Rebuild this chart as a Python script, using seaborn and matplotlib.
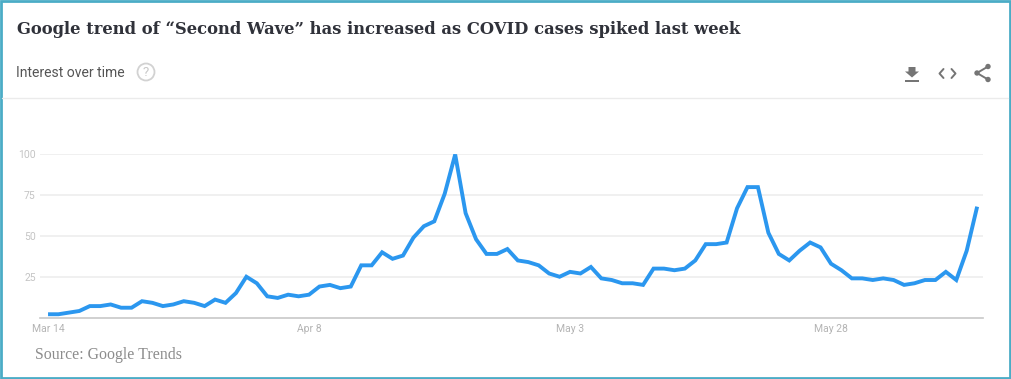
import pandas as pd
import matplotlib.pyplot as plt
from matplotlib.patches import Circle, Polygon, Rectangle
import seaborn as sns

# daily google trends index, starts Mar 14
start_date = "2020-03-14"
interest = [2, 2, 3, 4, 7, 7, 8, 6, 6, 10,
            9, 7, 8, 10, 9, 7, 11, 9, 15, 25,
            21, 13, 12, 14, 13, 14, 19, 20, 18, 19,
            32, 32, 40, 36, 38, 49, 56, 59, 76, 100,
            64, 48, 39, 39, 42, 35, 34, 32, 27, 25,
            28, 27, 31, 24, 23, 21, 21, 20, 30, 30,
            29, 30, 35, 45, 45, 46, 67, 80, 80, 52,
            39, 35, 41, 46, 43, 33, 29, 24, 24, 23,
            24, 23, 20, 21, 23, 23, 28, 23, 41, 68]
x_tick_dates = ["2020-03-14", "2020-04-08", "2020-05-03", "2020-05-28"]
x_tick_labels = ["Mar 14", "Apr 8", "May 3", "May 28"]
y_ticks = [25, 50, 75, 100]

title = "Google trend of “Second Wave” has increased as COVID cases spiked last week"
subtitle = "Interest over time"
source = "Source: Google Trends"

W, H = 1011, 379
sns.set_theme(style="white")
plt.rcParams["font.family"] = ["Roboto", "DejaVu Sans"]

df = pd.DataFrame({"date": pd.date_range(start_date, periods=len(interest)), "interest": interest})

fig = plt.figure(figsize=(W / 100, H / 100), dpi=100, facecolor="white")

# plot area in pixels: x 40-983, y 154.5 (100) to 317.5 (0)
ax = fig.add_axes([40 / W, (H - 317.5) / H, 943 / W, 163 / H])
ax.set_facecolor("none")
sns.lineplot(data=df, x="date", y="interest", color="#2b97ef", linewidth=2.8, ax=ax, clip_on=False,
             solid_joinstyle="miter", solid_capstyle="butt", zorder=3)
day = pd.Timedelta(days=1)
ax.set_xlim(df["date"].iloc[0] - 0.77 * day, df["date"].iloc[0] + 89.56 * day)
ax.set_ylim(0, 100)
ax.set_yticks(y_ticks)
ax.set_xticks(pd.to_datetime(x_tick_dates))
ax.set_xticklabels(x_tick_labels)
ax.set_xlabel("")
ax.set_ylabel("")
ax.grid(axis="y", color="#ececec", linewidth=1.1)
ax.set_axisbelow(True)
ax.tick_params(axis="x", length=0, pad=4.5, labelsize=7.5, labelcolor="#b4b4b4")
ax.tick_params(axis="y", length=0, pad=3, labelsize=7.5, labelcolor="#c4c4c4")
sns.despine(ax=ax, left=True, top=True, right=True)
ax.spines["bottom"].set_color("#c8c8c8")
ax.spines["bottom"].set_linewidth(1.2)

# overlay in pixel coords for header, icons, source and frame
ov = fig.add_axes([0, 0, 1, 1])
ov.set_xlim(0, W)
ov.set_ylim(H, 0)
ov.axis("off")
ov.patch.set_alpha(0)

ov.text(17, 29, title, family="DejaVu Serif", fontweight="bold", fontsize=11.8, color="#30323a", va="center")
ov.text(16, 73, subtitle, fontsize=10.1, color="#555555", va="center")
ov.text(35, 355, source, family="Liberation Serif", fontsize=11.4, color="#8c8c8c", va="center")
ov.plot([2, 1008], [97.5, 97.5], color="#ebebeb", linewidth=1)

# help icon
ov.add_patch(Circle((146, 72), 8.5, fill=False, edgecolor="#d2d2d2", linewidth=1.3))
ov.text(146, 72.5, "?", fontsize=9.5, color="#c8c8c8", ha="center", va="center")

# download icon
ov.add_patch(Polygon([[908.5, 67], [915.5, 67], [915.5, 71.5], [919, 71.5], [912, 77.5], [905, 71.5], [908.5, 71.5]],
                     closed=True, color="#757575", lw=0))
ov.add_patch(Rectangle((905, 79.5), 14, 2, color="#757575", lw=0))

# embed icon
ov.plot([943.5, 939.5, 943.5], [69, 73.5, 78], color="#757575", linewidth=1.4)
ov.plot([951.5, 955.5, 951.5], [69, 73.5, 78], color="#757575", linewidth=1.4)

# share icon
ov.plot([988, 977, 988], [66.5, 73, 79.5], color="#757575", linewidth=1.4)
for cx, cy in [(988, 66.5), (977, 73), (988, 79.5)]:
    ov.add_patch(Circle((cx, cy), 2.7, color="#757575", lw=0))

# frame
ov.add_patch(Rectangle((1, 1), W - 2.5, H - 2.5, fill=False, edgecolor="#4bacc6", linewidth=2))

fig.savefig("out.png", dpi=100)
